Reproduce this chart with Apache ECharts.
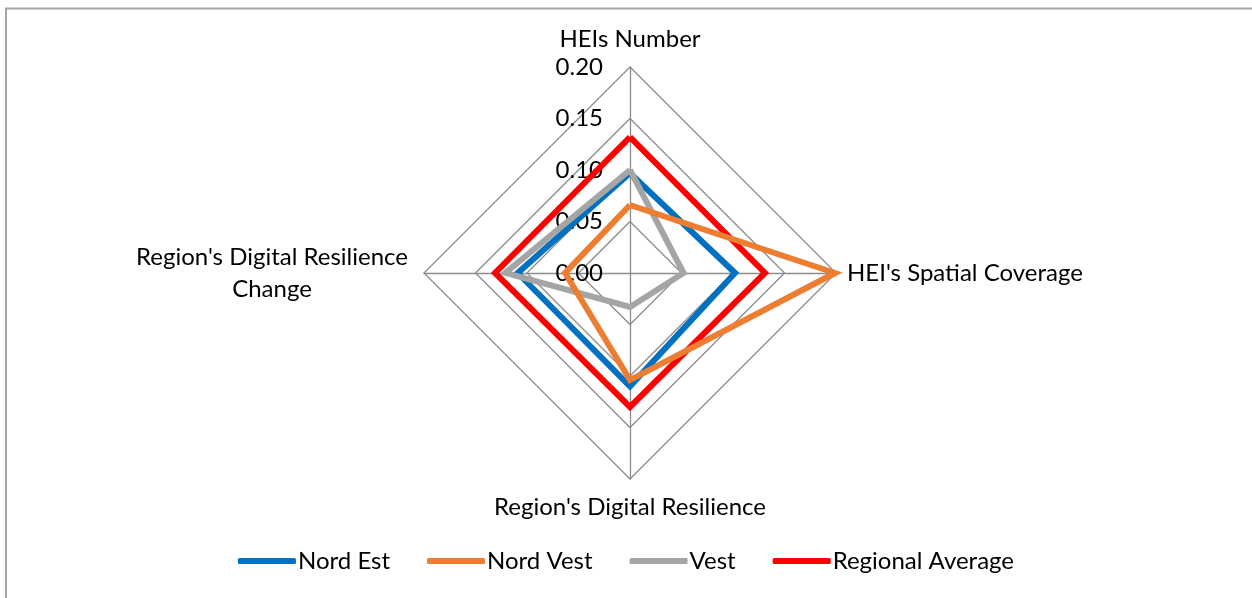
<!DOCTYPE html>
<html>
<head>
<meta charset="utf-8">
<script src="https://cdn.jsdelivr.net/npm/echarts@6/dist/echarts.min.js"></script>
<style>
html,body{margin:0;padding:0;background:#fff;}
#chart{width:1252px;height:598px;}
</style>
</head>
<body>
<div id="chart"></div>
<script>
// Indicators listed clockwise starting at the top
const categories = ["HEIs Number", "HEI's Spatial Coverage", "Region's Digital Resilience", "Region's Digital Resilience Change"];
const seriesNames = ["Nord Est", "Nord Vest", "Vest", "Regional Average"];
const nordEst = [0.097, 0.102, 0.110, 0.109];
const nordVest = [0.066, 0.199, 0.104, 0.063];
const vest = [0.100, 0.052, 0.033, 0.121];
const regionalAverage = [0.132, 0.131, 0.130, 0.131];
const tickLabels = [0.00, 0.05, 0.10, 0.15, 0.20];
const axisMax = 0.20;

// ECharts radar places indicators counter-clockwise; reorder clockwise data
function toRadarOrder(arr) { return [arr[0], arr[3], arr[2], arr[1]]; }

const FONT = 'Lato';
const FS = 24;

const chart = echarts.init(document.getElementById('chart'), null, {renderer: 'canvas'});

const colors = {"Nord Est": '#0070C0', "Nord Vest": '#ED7D31', "Vest": '#A5A5A5', "Regional Average": '#FF0000'};
const valuesByName = {"Nord Est": nordEst, "Nord Vest": nordVest, "Vest": vest, "Regional Average": regionalAverage};
const zByName = {"Nord Est": 2, "Vest": 3, "Regional Average": 4, "Nord Vest": 5};

const series = seriesNames.map(n => ({
  type: 'radar',
  name: n,
  z: zByName[n],
  symbol: 'none',
  lineStyle: {color: colors[n], width: 6, join: 'miter'},
  itemStyle: {color: colors[n]},
  data: [{name: n, value: toRadarOrder(valuesByName[n])}]
}));

chart.setOption({
  animation: false,
  backgroundColor: '#fff',
  graphic: [{
    type: 'polyline',
    shape: {points: [[6, 700], [6, 8.5], [1400, 8.5]]},
    style: {stroke: '#a6a6a6', lineWidth: 2, fill: null},
    silent: true
  }],
  radar: {
    center: [630, 273],
    radius: 206,
    shape: 'polygon',
    startAngle: 90,
    splitNumber: 4,
    nameGap: 11,
    indicator: toRadarOrder(categories).map(c => ({name: c, min: 0, max: axisMax})),
    axisName: {
      color: '#000',
      fontSize: FS,
      fontFamily: FONT,
      formatter: function (name) {
        if (name === categories[3]) {
          return '{c|Region\'s Digital Resilience}\n{c|Change}';
        }
        if (name === categories[0]) return '{t|' + name + '}';
        if (name === categories[2]) return '{b|' + name + '}';
        return name;
      },
      rich: {
        c: {width: 282, align: 'center', fontSize: FS, fontFamily: FONT, color: '#000', lineHeight: 32},
        t: {fontSize: FS, fontFamily: FONT, color: '#000', padding: [0, 0, 5, 0]},
        b: {fontSize: FS, fontFamily: FONT, color: '#000', padding: [5, 0, 0, 0]}
      }
    },
    splitLine: {lineStyle: {color: '#8c8c8c', width: 1.3}},
    splitArea: {show: false},
    axisLine: {lineStyle: {color: '#8c8c8c', width: 1.3}},
    axisTick: {show: false},
    axisLabel: {show: false}
  },
  grid: {left: 629, top: 67, width: 2, height: 206, containLabel: false},
  xAxis: {type: 'value', show: false, min: 0, max: 1},
  yAxis: {
    type: 'value',
    min: tickLabels[0],
    max: tickLabels[tickLabels.length - 1],
    interval: tickLabels[1] - tickLabels[0],
    axisLine: {show: false},
    axisTick: {show: false},
    splitLine: {show: false},
    axisLabel: {
      margin: 26,
      color: '#000',
      fontSize: FS,
      fontFamily: FONT,
      formatter: v => v.toFixed(2)
    }
  },
  legend: {
    data: seriesNames,
    top: 544,
    left: 'center',
    icon: 'roundRect',
    itemWidth: 58,
    itemHeight: 6,
    itemGap: 37,
    textStyle: {color: '#000', fontSize: FS, fontFamily: FONT, padding: [0, 0, 0, -3]}
  },
  series: series
});
</script>
</body>
</html>
